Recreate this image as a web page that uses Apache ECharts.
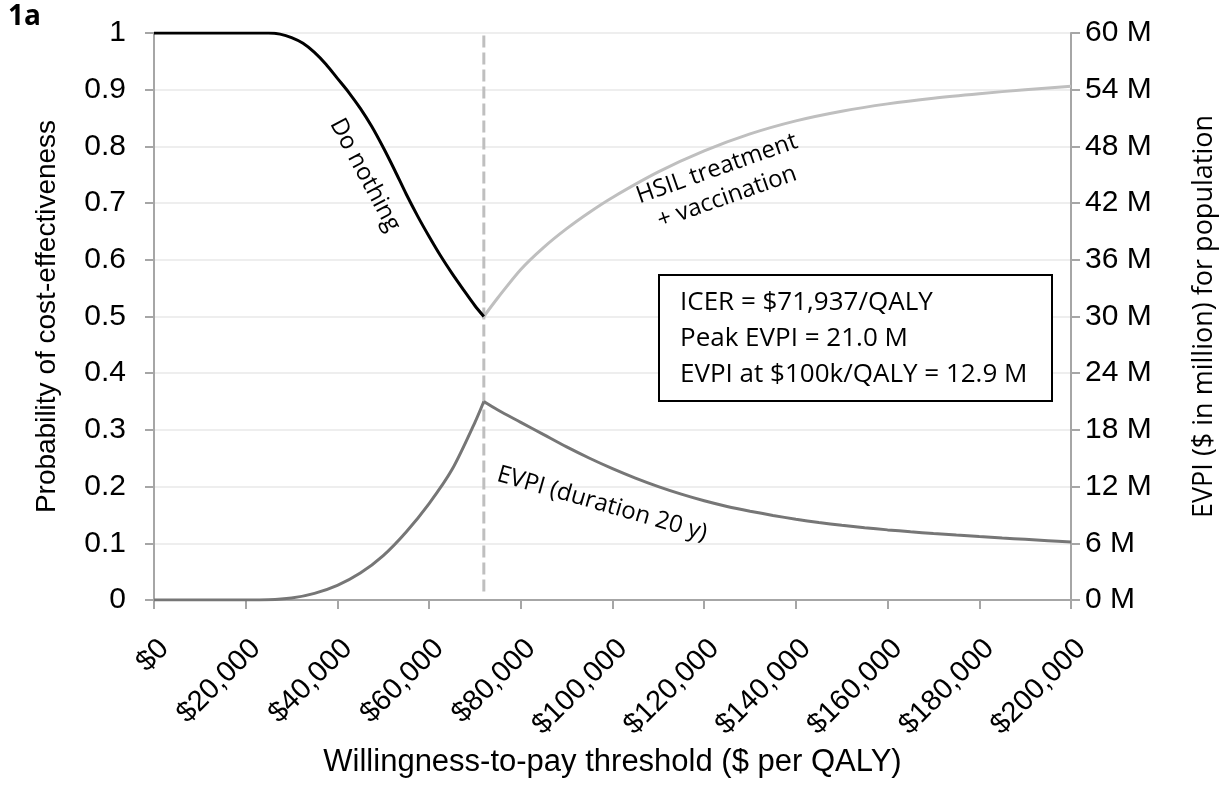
<!DOCTYPE html>
<html>
<head>
<meta charset="utf-8">
<script src="https://cdn.jsdelivr.net/npm/echarts@6/dist/echarts.min.js"></script>
<style>
  html, body { margin: 0; padding: 0; background: #fff; }
  #chart { width: 1232px; height: 789px; }
</style>
</head>
<body>
<div id="chart"></div>
<script>
// willingness-to-pay points ($/QALY) and probability / EVPI
var icer = 71937;

var wtpDoNothing  = [0, 10000, 20000, 25000, 27500, 30000, 32500, 35000, 37500, 40000, 42500, 45000, 47500, 50000, 52500, 55000, 57500, 60000, 62500, 65000, 67500, 70000, 71937];
var probDoNothing = [1, 1, 1, 1, 0.998, 0.992, 0.982, 0.966, 0.945, 0.92, 0.895, 0.867, 0.835, 0.798, 0.758, 0.716, 0.677, 0.641, 0.607, 0.576, 0.547, 0.519, 0.5];

var wtpHsil  = [71937, 75000, 80000, 85000, 90000, 95000, 100000, 110000, 120000, 130000, 140000, 150000, 160000, 170000, 180000, 190000, 200000];
var probHsil = [0.5, 0.533, 0.583, 0.622, 0.655, 0.684, 0.71, 0.755, 0.792, 0.822, 0.845, 0.862, 0.875, 0.885, 0.893, 0.9, 0.906];

// EVPI in $ million, rising and falling sides of the peak at the ICER
var wtpEvpiUp = [0, 10000, 20000, 25000, 30000, 35000, 40000, 45000, 50000, 55000, 60000, 65000, 70000, 71937];
var evpiUp    = [0, 0, 0, 0.02, 0.2, 0.7, 1.55, 2.85, 4.7, 7.2, 10.2, 13.8, 18.8, 21.0];
var wtpEvpiDown = [71937, 75000, 80000, 85000, 90000, 95000, 100000, 105000, 110000, 115000, 120000, 125000, 130000, 135000, 140000, 145000, 150000, 155000, 160000, 165000, 170000, 175000, 180000, 185000, 190000, 195000, 200000];
var evpiDown    = [21.0, 20.1, 18.8, 17.5, 16.2, 15.0, 13.9, 12.9, 12.0, 11.2, 10.5, 9.9, 9.4, 8.95, 8.55, 8.2, 7.9, 7.65, 7.42, 7.22, 7.04, 6.87, 6.71, 6.56, 6.42, 6.28, 6.14];

var xTicks = { min: 0, max: 200000, step: 20000 };
var leftTicks = { min: 0, max: 1, step: 0.1 };
var rightTicks = { min: 0, max: 60, step: 6 };

var boxLines = ["ICER = $71,937/QALY", "Peak EVPI = 21.0 M", "EVPI at $100k/QALY = 12.9 M"];

function pairs(xs, ys) {
	var out = [];
	for (var i = 0; i < xs.length; i++) out.push([xs[i], ys[i]]);
	return out;
}

function money(v) {
	return "$" + String(v).replace(/\B(?=(\d{3})+(?!\d))/g, ",");
}

var axisGray = "#a6a6a6";
var sans = "Liberation Sans";
var cal = "Open Sans";

var myChart = echarts.init(document.getElementById("chart"), null, { renderer: "canvas" });
var option = {
	backgroundColor: "#fff",
	animation: false,
	grid: { left: 154, right: 161, top: 33, bottom: 189 },
	xAxis: {
		type: "value",
		min: xTicks.min, max: xTicks.max, interval: xTicks.step,
		name: "Willingness-to-pay threshold ($ per QALY)",
		nameLocation: "middle", nameGap: 144,
		nameTextStyle: { fontFamily: sans, fontSize: 31, color: "#000" },
		axisLine: { lineStyle: { color: axisGray, width: 2 } },
		axisTick: { show: true, length: 9, lineStyle: { color: axisGray, width: 2 } },
		splitLine: { show: false },
		axisLabel: {
			rotate: 45, margin: 34, align: "right", verticalAlign: "top",
			fontFamily: sans, fontSize: 29, color: "#000",
			formatter: money
		}
	},
	yAxis: [
		{
			type: "value", position: "left",
			min: leftTicks.min, max: leftTicks.max, interval: leftTicks.step,
			name: "Probability of cost-effectiveness",
			nameLocation: "middle", nameGap: 93,
			nameTextStyle: { fontFamily: sans, fontSize: 28, color: "#000" },
			axisLine: { show: true, lineStyle: { color: axisGray, width: 2 } },
			axisTick: { show: true, length: 9, lineStyle: { color: axisGray, width: 2 } },
			splitLine: { show: true, lineStyle: { color: "#eeeeee", width: 2 } },
			axisLabel: { margin: 28, fontFamily: sans, fontSize: 30, color: "#000" }
		},
		{
			type: "value", position: "right",
			min: rightTicks.min, max: rightTicks.max, interval: rightTicks.step,
			name: "EVPI ($ in million) for population",
			nameLocation: "middle", nameGap: 120, nameRotate: 90,
			nameTextStyle: { fontFamily: cal, fontSize: 27, color: "#000" },
			axisLine: { show: true, lineStyle: { color: axisGray, width: 2 } },
			axisTick: { show: true, length: 9, lineStyle: { color: axisGray, width: 2 } },
			splitLine: { show: false },
			axisLabel: {
				margin: 14, fontFamily: sans, fontSize: 30, color: "#000",
				formatter: function (v) { return v + " M"; }
			}
		}
	],
	series: [
		{
			name: "ICER", type: "line", yAxisIndex: 0, symbol: "none", silent: true,
			data: [[icer, 0.015], [icer, 1]],
			lineStyle: { color: "#bfbfbf", width: 3, type: [12, 5] }, z: 1
		},
		{
			name: "Do nothing", type: "line", yAxisIndex: 0, symbol: "none", smooth: 0.3,
			data: pairs(wtpDoNothing, probDoNothing),
			lineStyle: { color: "#000", width: 3 }, z: 3
		},
		{
			name: "HSIL treatment + vaccination", type: "line", yAxisIndex: 0, symbol: "none", smooth: 0.3,
			data: pairs(wtpHsil, probHsil),
			lineStyle: { color: "#bfbfbf", width: 3 }, z: 2
		},
		{
			name: "EVPI", type: "line", yAxisIndex: 1, symbol: "none", smooth: 0.3,
			data: pairs(wtpEvpiUp, evpiUp),
			lineStyle: { color: "#767676", width: 3 }, z: 2
		},
		{
			name: "EVPI", type: "line", yAxisIndex: 1, symbol: "none", smooth: 0.3,
			data: pairs(wtpEvpiDown, evpiDown),
			lineStyle: { color: "#767676", width: 3 }, z: 2
		}
	],
	graphic: [
		{ type: "text", left: 8, top: 3, z: 100, style: { text: "1a", font: "bold 28px 'Open Sans'", fill: "#000" } },
		{
			type: "text", x: 365, y: 175, rotation: -1.08, z: 100,
			style: { text: "Do nothing", fontFamily: cal, fontSize: 24, fill: "#000", align: "center", verticalAlign: "middle" }
		},
		{
			type: "text", x: 722, y: 183, rotation: 0.34, z: 100,
			style: { text: "HSIL treatment\n+ vaccination", fontFamily: cal, fontSize: 24, lineHeight: 30, fill: "#000", align: "center", verticalAlign: "middle" }
		},
		{
			type: "text", x: 602, y: 504, rotation: -0.28, z: 100,
			style: { text: "EVPI (duration 20 y)", fontFamily: cal, fontSize: 24, fill: "#000", align: "center", verticalAlign: "middle" }
		},
		{
			type: "rect", shape: { x: 659, y: 275, width: 393, height: 126 }, z: 100,
			style: { fill: "#fff", stroke: "#000", lineWidth: 2 }
		},
		{
			type: "text", x: 680, y: 339, z: 101,
			style: { text: boxLines.join("\n"), fontFamily: cal, fontSize: 26, lineHeight: 36, fill: "#000", align: "left", verticalAlign: "middle" }
		}
	]
};
myChart.setOption(option);
</script>
</body>
</html>
